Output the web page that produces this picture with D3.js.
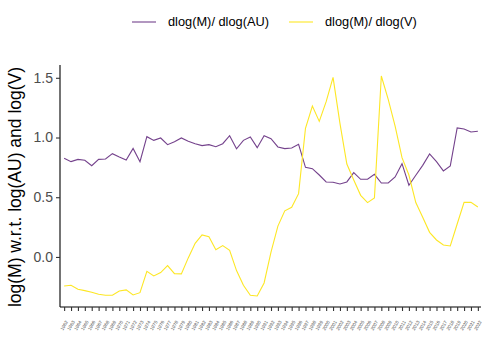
<!DOCTYPE html>
<html>
<head>
<meta charset="utf-8">
<script src="https://cdn.jsdelivr.net/npm/d3@7"></script>
<style>
  body { margin: 0; background: #fff; }
  svg { display: block; font-family: "Liberation Sans", Arial, sans-serif; }
</style>
</head>
<body>
<svg id="chart" width="482" height="339"></svg>
<script>
const years = d3.range(1962, 2023);
const seriesNames = ["dlog(M)/ dlog(AU)", "dlog(M)/ dlog(V)"];
const seriesColors = ["#74428c", "#fde725"];
const dlogAU = [
  0.826, 0.798, 0.817, 0.809, 0.764, 0.817, 0.820, 0.865, 0.837, 0.812,
  0.909, 0.798, 1.007, 0.976, 0.996, 0.940, 0.965, 0.996, 0.968, 0.948,
  0.932, 0.940, 0.923, 0.948, 1.015, 0.906, 0.976, 1.004, 0.915, 1.015,
  0.990, 0.921, 0.907, 0.912, 0.943, 0.750, 0.739, 0.686, 0.628, 0.625,
  0.611, 0.628, 0.706, 0.650, 0.650, 0.692, 0.619, 0.619, 0.670, 0.781,
  0.600, 0.684, 0.767, 0.862, 0.798, 0.720, 0.762, 1.080, 1.071, 1.046,
  1.052
];
const dlogV = [
  -0.243, -0.237, -0.271, -0.282, -0.296, -0.313, -0.321, -0.321, -0.285, -0.276,
  -0.318, -0.299, -0.120, -0.159, -0.131, -0.073, -0.140, -0.142, -0.008, 0.114,
  0.184, 0.170, 0.061, 0.095, 0.056, -0.114, -0.237, -0.321, -0.327, -0.218,
  0.040, 0.258, 0.386, 0.416, 0.530, 1.077, 1.264, 1.135, 1.300, 1.503,
  1.119, 0.778, 0.644, 0.516, 0.455, 0.494, 1.515, 1.319, 1.096, 0.831,
  0.686, 0.455, 0.332, 0.206, 0.142, 0.100, 0.092, 0.276, 0.457, 0.457,
  0.418
];
const yTicks = [0.0, 0.5, 1.0, 1.5];

(function () {
const svg = d3.select("#chart");
const pLeft = 60, pRight = 482, pTop = 65, pBottom = 307;

const x = d3.scalePoint().domain(years).range([pLeft, pRight]).padding(0.6);
const all = dlogAU.concat(dlogV);
const [mn, mx] = d3.extent(all);
const pad = (mx - mn) * 0.05;
const y = d3.scaleLinear().domain([mn - pad, mx + pad]).range([pBottom, pTop]);

// Y axis
const yAxis = svg.append("g")
  .attr("transform", `translate(${pLeft},0)`)
  .call(d3.axisLeft(y).tickValues(yTicks).tickFormat(d3.format(".1f")).tickSize(4).tickPadding(3));
yAxis.select(".domain").attr("stroke", "#000").attr("stroke-width", 1.1).attr("d", `M0,${pTop}V${pBottom}`);
yAxis.selectAll(".tick line").attr("stroke", "#333").attr("stroke-width", 1.1);
yAxis.selectAll(".tick text").attr("fill", "#4d4d4d").attr("font-size", "14px")
  .attr("font-family", "Liberation Sans, Arial, sans-serif");

// X axis
const xAxis = svg.append("g")
  .attr("transform", `translate(0,${pBottom})`)
  .call(d3.axisBottom(x).tickSize(4).tickPadding(2));
xAxis.select(".domain").attr("stroke", "#000").attr("stroke-width", 1.1).attr("d", `M${pLeft},0H${pRight - 1}`);
xAxis.selectAll(".tick line").attr("stroke", "#333").attr("stroke-width", 1.1);
xAxis.selectAll(".tick text")
  .attr("fill", "#4d4d4d").attr("font-size", "4.6px")
  .attr("font-family", "Liberation Sans, Arial, sans-serif")
  .attr("text-anchor", "end")
  .attr("dy", "0.35em")
  .attr("y", 0)
  .attr("transform", "translate(2,14) rotate(-60)");

// Lines
const line = d3.line().x((d, i) => x(years[i])).y(d => y(d));
[dlogAU, dlogV].forEach((s, k) => {
  svg.append("path").datum(s)
    .attr("fill", "none")
    .attr("stroke", seriesColors[k])
    .attr("stroke-width", 1.1)
    .attr("d", line);
});

// Y title
svg.append("text")
  .attr("transform", `translate(21,187) rotate(-90)`)
  .attr("text-anchor", "middle")
  .attr("font-size", "17.5px")
  .attr("fill", "#000")
  .text("log(M) w.r.t. log(AU) and log(V)");

// Legend
const legend = [
  { x0: 132, tx: 168 },
  { x0: 289, tx: 325 }
];
legend.forEach((l, k) => {
  svg.append("line")
    .attr("x1", l.x0).attr("x2", l.x0 + 24)
    .attr("y1", 22).attr("y2", 22)
    .attr("stroke", seriesColors[k]).attr("stroke-width", 1.1);
  svg.append("text")
    .attr("x", l.tx).attr("y", 22).attr("dy", "0.35em")
    .attr("font-size", "12.8px").attr("fill", "#000")
    .text(seriesNames[k]);
});
})();
</script>
</body>
</html>
